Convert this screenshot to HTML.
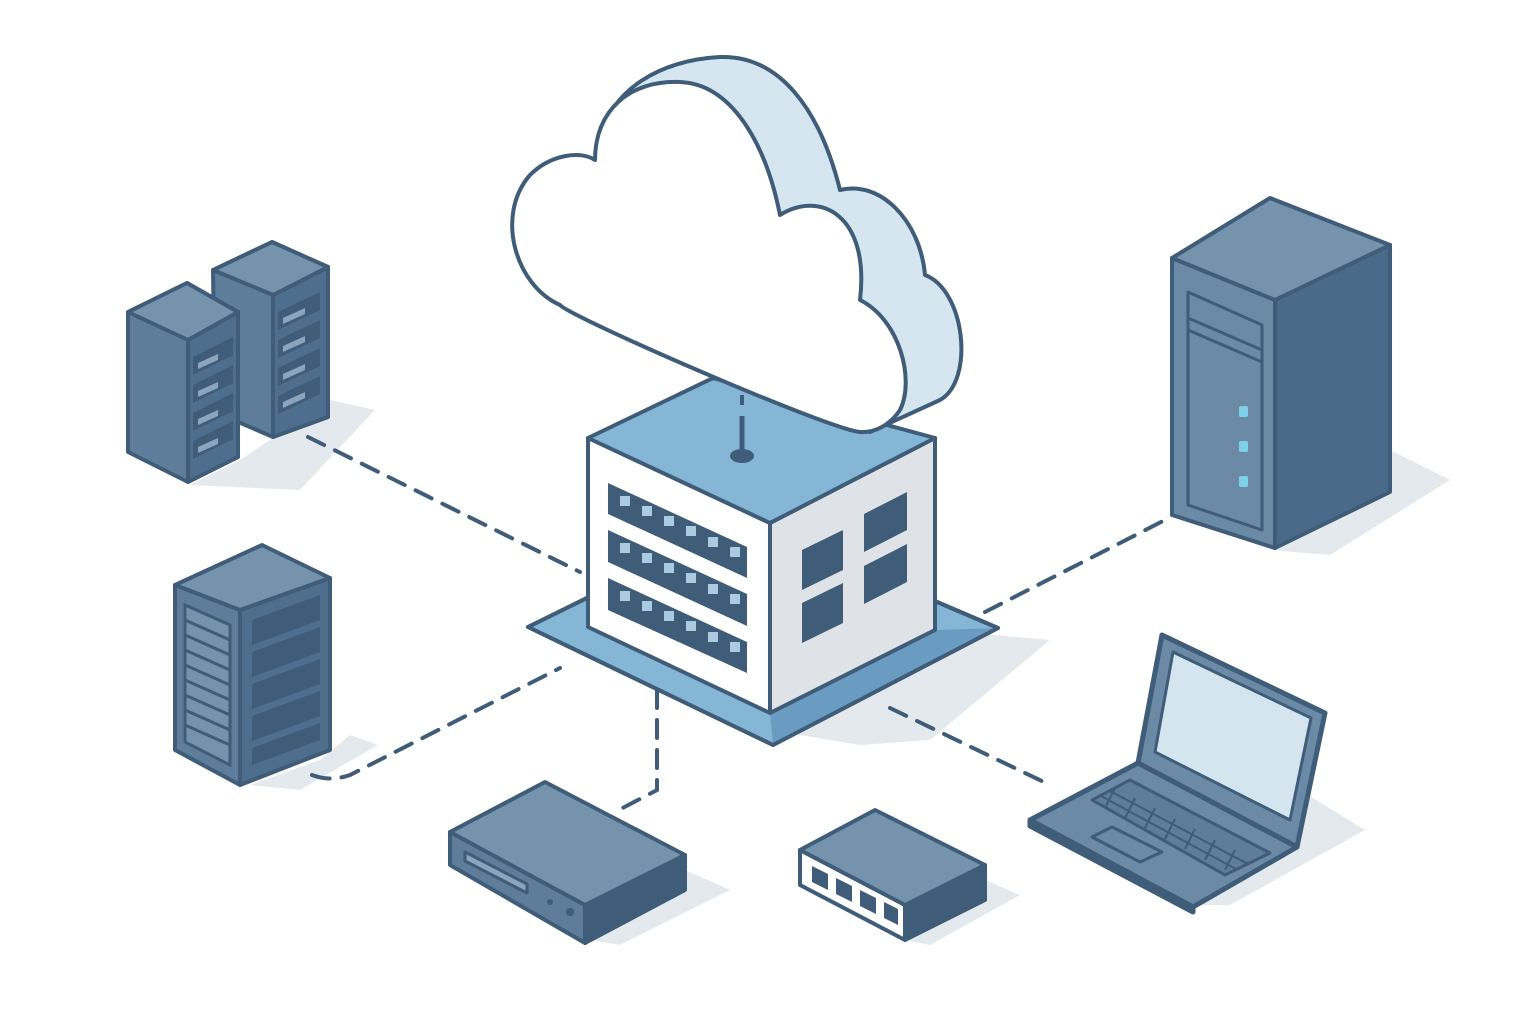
<!DOCTYPE html>
<html><head><meta charset="utf-8"><style>html,body{margin:0;padding:0;background:#fff}svg{display:block}</style></head>
<body>
<svg width="1536" height="1024" viewBox="0 0 1536 1024" xmlns="http://www.w3.org/2000/svg">
<g fill="#e4e9ed">
<polygon points="240,460 330,400 375,410 300,490 190,485"/>
<polygon points="320,760 350,735 378,745 300,790 250,785"/>
<polygon points="1390,450 1450,480 1330,555 1270,550 1390,490"/>
<polygon points="770,730 940,630 1050,640 930,740 860,745"/>
<polygon points="1300,790 1365,830 1230,905 1190,905"/>
<polygon points="685,870 730,890 620,945 590,940"/>
<polygon points="985,880 1020,895 930,945 905,940"/>
</g>
<g stroke="#3f5c78" stroke-width="4" stroke-dasharray="18,12" fill="none" stroke-linecap="round">
<path d="M308,437 L580,572"/>
<path d="M312,775 Q330,782 350,775 L560,668"/>
<path d="M657,690 L657,790 L615,812"/>
<path d="M985,612 L1165,520"/>
<path d="M890,708 L1050,785"/>
</g>
<g stroke="#3f5c78" stroke-width="4" stroke-linejoin="round">
<!-- base plate -->
<polygon points="528,627 745,520 998,628 773,745" fill="#86b6d6"/>
<polygon points="770,713 935,630 998,628 773,745" fill="#6a9cc2" stroke="none"/>
<polygon points="528,627 745,520 998,628 773,745" fill="none"/>
<!-- building -->
<polygon points="588,438 770,523 770,713 588,627" fill="#ffffff"/>
<polygon points="770,523 935,438 935,630 770,713" fill="#dfe3e7"/>
<polygon points="588,438 713,378 935,438 770,523" fill="#86b6d6"/>
</g>
<g fill="#3f5c78">
<polygon points="608,483 747,547 747,578 608,514"/>
<polygon points="608,530 747,594 747,626 608,562"/>
<polygon points="608,578 747,642 747,673 608,610"/>
<polygon points="802,550 843,530 843,570 802,590"/>
<polygon points="864,514 907,492 907,530 864,552"/>
<polygon points="802,603 843,583 843,623 802,643"/>
<polygon points="864,566 907,544 907,582 864,604"/>
</g>
<g fill="#a9cbe0">
<rect x="620" y="496" width="10" height="10"/><rect x="642" y="506" width="10" height="10"/><rect x="664" y="516" width="10" height="10"/><rect x="686" y="526" width="10" height="10"/><rect x="708" y="537" width="10" height="10"/><rect x="730" y="547" width="10" height="10"/>
<rect x="620" y="543" width="10" height="10"/><rect x="642" y="553" width="10" height="10"/><rect x="664" y="563" width="10" height="10"/><rect x="686" y="573" width="10" height="10"/><rect x="708" y="584" width="10" height="10"/><rect x="730" y="594" width="10" height="10"/>
<rect x="620" y="591" width="10" height="10"/><rect x="642" y="601" width="10" height="10"/><rect x="664" y="611" width="10" height="10"/><rect x="686" y="621" width="10" height="10"/><rect x="708" y="632" width="10" height="10"/><rect x="730" y="642" width="10" height="10"/>
</g>
<!-- antenna -->
<line x1="742" y1="395" x2="742" y2="405" stroke="#3f5c78" stroke-width="4"/>
<line x1="742" y1="416" x2="742" y2="452" stroke="#3f5c78" stroke-width="5"/>
<ellipse cx="742" cy="456" rx="12" ry="7" fill="#3f5c78"/>
<!-- cloud -->
<g stroke="#3f5c78" stroke-width="4" stroke-linejoin="round">
<path d="M600,140 C610,90 660,60 720,57 C780,55 820,110 840,190 C880,180 920,220 925,275 C965,290 975,380 940,400 L870,432 L580,300 Z" fill="#d6e6f0"/>
<path d="M860,432 C830,430 572,318 560,305 C515,285 495,215 530,175 C550,155 580,150 595,160 C595,110 630,80 680,82 C730,84 765,140 780,215 C820,190 870,215 860,300 C900,320 915,380 900,410 C890,425 875,433 860,432 Z" fill="#ffffff"/>
</g>
<!-- left servers -->
<g stroke="#3f5c78" stroke-width="4" stroke-linejoin="round">
<polygon points="213,270 272,242 328,267 328,417 273,437 215,412" fill="#5d7d9b"/>
<polygon points="273,295 328,267 328,417 273,437" fill="#4e6e8e"/>
<polygon points="213,270 272,242 328,267 273,295" fill="#7593ad"/>
<polygon points="128,312 187,283 238,312 238,457 188,482 128,452" fill="#5d7d9b"/>
<polygon points="188,340 238,312 238,457 188,482" fill="#4e6e8e"/>
<polygon points="128,312 187,283 238,312 188,340" fill="#7593ad"/>
</g>
<g fill="#3f5c78">
<polygon points="278,312 320,292 320,310 278,330"/><polygon points="278,340 320,320 320,338 278,358"/><polygon points="278,368 320,348 320,366 278,386"/><polygon points="278,396 320,376 320,394 278,414"/>
<polygon points="193,357 233,337 233,355 193,375"/><polygon points="193,385 233,365 233,383 193,403"/><polygon points="193,413 233,393 233,411 193,431"/><polygon points="193,441 233,421 233,439 193,459"/>
</g>
<g fill="#8aa5bd">
<polygon points="283,318 305,308 305,314 283,324"/><polygon points="283,346 305,336 305,342 283,352"/><polygon points="283,374 305,364 305,370 283,380"/><polygon points="283,402 305,392 305,398 283,408"/>
<polygon points="198,363 218,354 218,360 198,369"/><polygon points="198,391 218,382 218,388 198,397"/><polygon points="198,419 218,410 218,416 198,425"/><polygon points="198,447 218,438 218,444 198,453"/>
</g>
<!-- server C -->
<g stroke="#3f5c78" stroke-width="4" stroke-linejoin="round">
<polygon points="175,585 240,610 240,785 175,750" fill="#5d7d9b"/>
<polygon points="240,610 330,578 330,750 240,785" fill="#4e6e8e"/>
<polygon points="175,585 262,545 330,578 240,610" fill="#7593ad"/>
</g>
<g stroke="#3f5c78" stroke-width="3" fill="#7593ad">
<polygon points="185,605 230,625 230,765 185,742"/>
</g>
<g stroke="#3f5c78" stroke-width="3">
<line x1="185" y1="620" x2="230" y2="640"/><line x1="185" y1="635" x2="230" y2="655"/><line x1="185" y1="650" x2="230" y2="670"/><line x1="185" y1="665" x2="230" y2="685"/><line x1="185" y1="680" x2="230" y2="700"/><line x1="185" y1="695" x2="230" y2="715"/><line x1="185" y1="710" x2="230" y2="730"/><line x1="185" y1="725" x2="230" y2="745"/>
</g>
<g fill="#3f5c78">
<polygon points="252,620 320,595 320,620 252,645"/><polygon points="252,652 320,627 320,652 252,677"/><polygon points="252,684 320,659 320,684 252,709"/><polygon points="252,716 320,691 320,716 252,741"/><polygon points="252,748 320,723 320,740 252,765"/>
</g>
<!-- tower -->
<g stroke="#3f5c78" stroke-width="4" stroke-linejoin="round">
<polygon points="1172,258 1275,300 1275,548 1172,515" fill="#6a8aa6"/>
<polygon points="1275,300 1390,245 1390,492 1275,548" fill="#4a6a8a"/>
<polygon points="1172,258 1270,198 1390,245 1275,300" fill="#7593ad"/>
<polygon points="1188,292 1262,325 1262,530 1188,505" fill="#6a8aa6" stroke-width="3"/>
<line x1="1188" y1="318" x2="1262" y2="350" stroke-width="3"/>
<line x1="1188" y1="330" x2="1262" y2="362" stroke-width="3"/>
</g>
<g fill="#7fd0e8"><rect x="1239" y="406" width="9" height="11" rx="2"/><rect x="1239" y="441" width="9" height="11" rx="2"/><rect x="1239" y="476" width="9" height="11" rx="2"/></g>
<!-- router -->
<g stroke="#3f5c78" stroke-width="4" stroke-linejoin="round">
<polygon points="450,832 585,905 585,943 450,865" fill="#5d7d9b"/>
<polygon points="585,905 685,855 685,890 585,943" fill="#3f5c78"/>
<polygon points="450,832 545,782 685,855 585,905" fill="#7593ad"/>
<polygon points="465,852 527,884 527,893 465,861" fill="#8aa5bd" stroke-width="3"/>
</g>
<circle cx="550" cy="902" r="3" fill="#3f5c78"/><circle cx="570" cy="912" r="4" fill="#3f5c78"/>
<!-- switch -->
<g stroke="#3f5c78" stroke-width="4" stroke-linejoin="round">
<polygon points="800,850 905,905 905,940 800,885" fill="#ffffff"/>
<polygon points="905,905 985,865 985,900 905,940" fill="#3f5c78"/>
<polygon points="800,850 875,810 985,865 905,905" fill="#7593ad"/>
</g>
<g fill="#3f5c78"><polygon points="812,866 828,874 828,890 812,882"/><polygon points="836,878 852,886 852,902 836,894"/><polygon points="860,890 876,898 876,914 860,906"/><polygon points="884,902 898,909 898,925 884,918"/></g>
<!-- laptop -->
<g stroke="#3f5c78" stroke-width="5" stroke-linejoin="round">
<polygon points="1138,763 1162,635 1325,713 1297,847" fill="#6a8aa6"/>
<polygon points="1155,752 1173,652 1311,718 1290,820" fill="#d4e5ef" stroke-width="3"/>
<polygon points="1030,820 1138,763 1297,847 1193,907" fill="#6a8aa6"/>
<polygon points="1030,820 1193,907 1193,912 1030,826" fill="#3f5c78"/>
<polygon points="1092,800 1130,780 1270,853 1225,875" fill="#5d7d9b" stroke-width="3"/>
<polygon points="1092,837 1112,827 1162,852 1140,862" fill="#6a8aa6" stroke-width="3"/>
</g>
<g stroke="#3f5c78" stroke-width="2">
<line x1="1110" y1="791" x2="1248" y2="864"/><line x1="1101" y1="796" x2="1236" y2="869"/>
<line x1="1115" y1="788" x2="1105" y2="808"/><line x1="1135" y1="798" x2="1125" y2="818"/><line x1="1155" y1="808" x2="1145" y2="828"/><line x1="1175" y1="819" x2="1165" y2="839"/><line x1="1195" y1="829" x2="1185" y2="849"/><line x1="1215" y1="840" x2="1205" y2="860"/><line x1="1235" y1="850" x2="1225" y2="870"/>
</g>
</svg>
</body></html>
